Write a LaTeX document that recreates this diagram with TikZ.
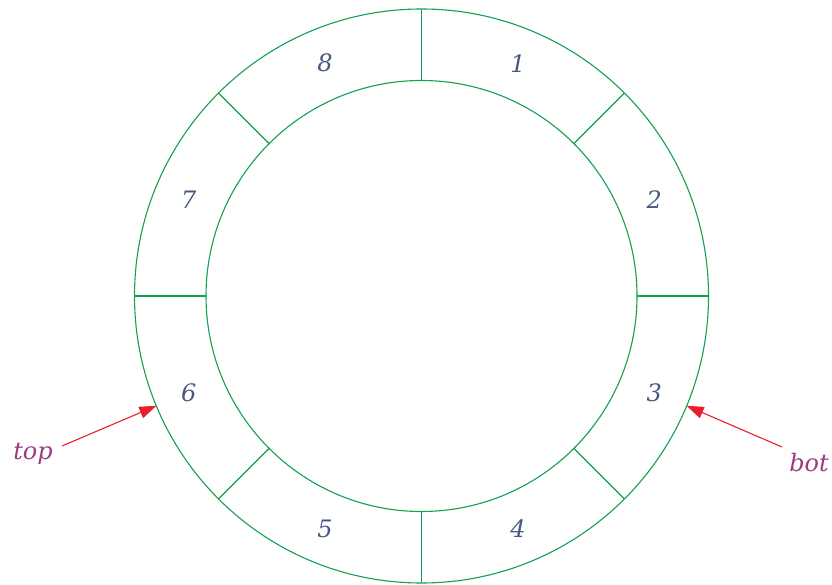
\documentclass[tikz,border=0pt]{standalone}
\usepackage{fontspec}
\setmainfont{DejaVu Serif}
\usetikzlibrary{arrows.meta,calc}
\definecolor{ringgreen}{RGB}{20,160,80}
\definecolor{numblue}{RGB}{72,88,130}
\definecolor{lblmag}{RGB}{155,60,130}
\definecolor{arrred}{RGB}{232,32,42}
\tikzset{
  ring/.style={draw=ringgreen, line width=1.1pt},
  divider/.style={draw=ringgreen, line width=1.1pt},
  slotnum/.style={text=numblue, font=\fontsize{24}{28}\selectfont\itshape},
  ptrlabel/.style={text=lblmag, font=\fontsize{24}{28}\selectfont\itshape},
  ptrarrow/.style={draw=arrred, line width=1.1pt, -{Triangle[length=17pt,width=12pt]}}
}
\begin{document}
\begin{tikzpicture}[x=1pt,y=1pt]
\useasboundingbox (0,0) rectangle (832,584);
\coordinate (c) at (421.5,288);
\draw[ring] (c) circle[radius=287];
\draw[ring] (c) circle[radius=215.5];
\foreach \a in {0,45,...,315}{
  \draw[divider] ($(c)+(\a:215.5)$) -- ($(c)+(\a:287)$);
}
\foreach \n/\a in {1/67.5,2/22.5,3/-22.5,4/-67.5,5/-112.5,6/-157.5,7/157.5,8/112.5}{
  \node[slotnum] (n\n) at ($(c)+(\a:252)$) {\n};
}
\coordinate (tiptop) at ($(c)+(202.5:287)$);
\coordinate (tipbot) at ($(c)+(-22.5:287)$);
\node[ptrlabel] (top) at (33,130) {top};
\node[ptrlabel] (bot) at (809,121) {bot};
\coordinate (starttop) at (62,138);
\coordinate (startbot) at (782,137);
\draw[ptrarrow] (starttop) -- (tiptop);
\draw[ptrarrow] (startbot) -- (tipbot);
\end{tikzpicture}
\end{document}
